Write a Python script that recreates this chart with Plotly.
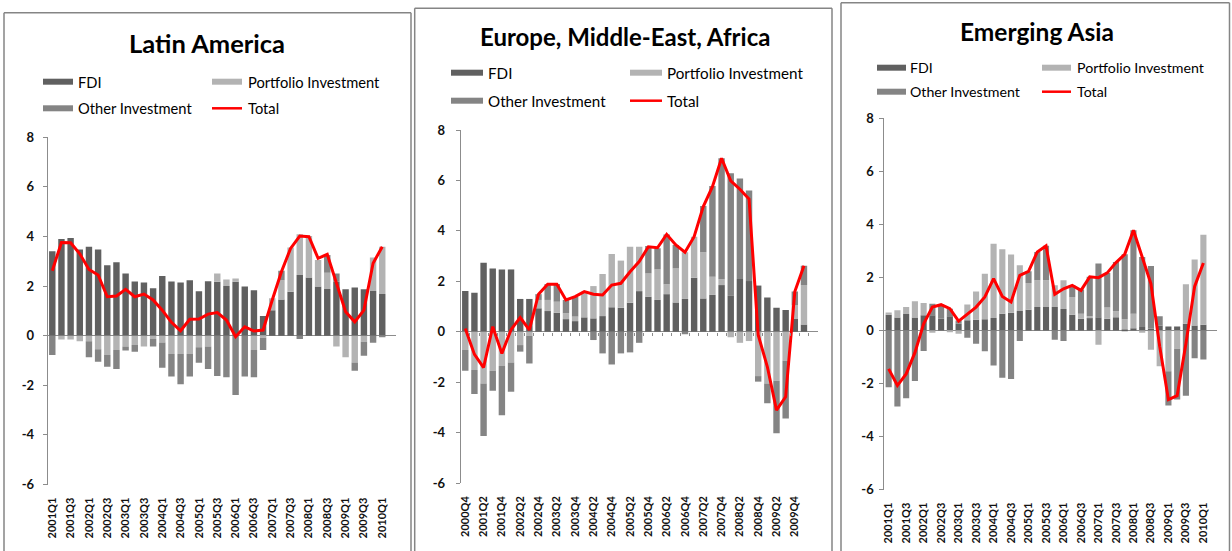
import plotly.graph_objects as go

W, H = 1232, 551


def quarters(start_year, start_q, n):
    out = []
    y, q = start_year, start_q
    for _ in range(n):
        out.append(f"{y}Q{q}")
        q += 1
        if q > 4:
            q = 1
            y += 1
    return out


# ---------------- data ----------------
la_quarters = quarters(2001, 1, 37)
la_fdi = [3.41, 3.90, 3.94, 3.48, 3.59, 3.48, 2.84, 2.96, 2.51, 2.19,
          2.15, 1.91, 2.41, 2.19, 2.15, 2.24, 1.79, 2.20, 2.18, 2.00,
          2.18, 1.98, 1.83, 0.79, 1.03, 1.46, 1.77, 2.45, 2.35, 1.98,
          1.88, 2.18, 1.87, 1.94, 1.87, 1.80, 1.68]
la_portfolio = [0, -0.15, -0.15, -0.22, -0.22, -0.55, -0.78, -0.58, -0.44, -0.38,
                -0.44, -0.13, -0.27, -0.74, -0.74, -0.74, -0.47, -0.44, 0.33, 0.27,
                0.13, 0, -0.58, -0.08, 0.48, 0.78, 1.79, 1.64, 1.67, 1.07,
                0.66, -0.44, -0.87, -1.08, -0.24, 1.35, 1.91]
la_other = [-0.78, 0, 0, 0, -0.65, -0.50, -0.47, -0.76, -0.16, -0.27,
            0, -0.31, -1.02, -0.91, -1.22, -0.91, -0.62, -0.90, -1.63, -1.68,
            -2.39, -1.65, -1.10, -0.50, 0, 0.38, 0, -0.13, 0, 0,
            0.71, 0.33, 0, -0.33, -0.57, -0.28, -0.05]
la_total = [2.62, 3.76, 3.75, 3.30, 2.67, 2.45, 1.57, 1.60, 1.87, 1.57,
            1.68, 1.44, 1.03, 0.54, 0.20, 0.66, 0.67, 0.87, 0.93, 0.63,
            -0.04, 0.36, 0.19, 0.23, 1.44, 2.58, 3.52, 4.02, 3.99, 3.12,
            3.28, 2.11, 0.97, 0.56, 1.03, 2.92, 3.59]

emea_quarters = quarters(2000, 4, 38)
emea_fdi = [1.61, 1.55, 2.74, 2.51, 2.47, 2.47, 1.30, 1.30, 0.93, 0.82,
            0.75, 0.50, 0.42, 0.57, 0.53, 0.62, 0.97, 0.95, 1.15, 1.61,
            1.39, 1.26, 1.49, 1.16, 1.30, 2.14, 1.32, 1.46, 1.85, 1.42,
            2.09, 2.01, 1.83, 1.36, 0.95, 0.86, 0.50, 0.29]
emea_portfolio = [-0.73, -1.52, -2.05, -1.55, -1.36, -1.22, -0.53, -0.17, 0.33, 0.44,
                  0.44, 0.23, 0.18, 1.02, 1.28, 1.67, 2.11, 1.87, 2.22, 1.76,
                  0.92, 1.21, 0.39, 1.35, 1.85, 1.63, 1.83, 0.72, 0.23, -0.22,
                  -0.44, -0.37, -1.76, -2.05, -1.94, -1.15, 0.56, 1.56]
emea_other = [-0.82, -0.95, -2.09, -0.79, -1.95, -1.16, -0.26, -1.09, 0.23, 0.63,
              0.70, 0.53, 0.79, 0, -0.33, -0.86, -1.30, -0.86, -0.82, -0.44,
              1.09, 0.84, 1.98, 0.93, -0.10, 0, 1.84, 3.60, 4.80, 4.86,
              3.99, 3.59, -0.22, -0.79, -2.09, -2.29, 0.53, 0.77]
emea_total = [0.13, -0.90, -1.42, 0.20, -0.86, 0.08, 0.56, 0.07, 1.49, 1.88,
              1.88, 1.26, 1.39, 1.59, 1.49, 1.46, 1.85, 1.92, 2.38, 2.78,
              3.37, 3.33, 3.86, 3.44, 3.15, 3.77, 4.96, 5.75, 6.88, 5.98,
              5.65, 5.26, -0.13, -1.39, -3.11, -2.58, 1.59, 2.62]

asia_quarters = quarters(2001, 1, 37)
asia_fdi = [0.59, 0.49, 0.62, 0.49, 0.57, 0.57, 0.44, 0.53, 0.25, 0.38,
            0.40, 0.42, 0.47, 0.63, 0.67, 0.73, 0.78, 0.88, 0.88, 0.88,
            0.81, 0.59, 0.44, 0.47, 0.50, 0.44, 0.50, 0.04, 0.08, 0.13,
            0.06, 0.19, 0.15, 0.15, 0.25, 0.19, 0.21]
asia_portfolio = [0.09, 0.27, 0.26, 0.61, 0.46, -0.09, 0, -0.04, -0.13, 0.60,
                  1.07, 1.72, 2.80, 2.43, 2.19, 1.73, 1.01, 1.01, 1.01, 0.82,
                  1.08, 0.67, 0.19, 0.06, -0.54, 0.42, 0.22, 0.38, 0.55, -0.09,
                  -0.73, -1.35, -1.54, -0.69, 1.49, 2.48, 3.40]
asia_other = [-2.14, -2.87, -2.56, -1.91, -0.78, 0.44, 0.54, 0.29, 0.12, -0.28,
              -0.50, -0.79, -1.32, -1.79, -1.83, -0.40, 0.44, 1.07, 1.30, -0.35,
              -0.40, 0.44, 0.91, 1.49, 2.02, 1.31, 1.86, 2.45, 3.15, 2.64,
              2.37, 0.34, -1.29, -1.92, -2.46, -1.05, -1.10]
asia_total = [-1.45, -2.08, -1.64, -0.84, 0.25, 0.88, 0.97, 0.82, 0.35, 0.63,
              0.88, 1.26, 1.95, 1.28, 1.07, 2.08, 2.23, 2.96, 3.19, 1.36,
              1.57, 1.70, 1.51, 2.02, 1.99, 2.17, 2.56, 2.87, 3.78, 2.77,
              1.76, -0.60, -2.61, -2.46, -0.50, 1.66, 2.54]

titles = ["Latin America", "Europe, Middle-East, Africa", "Emerging Asia"]
series_names = ["FDI", "Portfolio Investment", "Other Investment", "Total"]
y_tickvals = [-6, -4, -2, 0, 2, 4, 6, 8]
y_ticktext = ["-6", "-4", "-2", "0", "2", "4", "6", "8"]

# ---------------- styles ----------------
FDI_C = "#606060"
PORT_C = "#b3b3b3"
OTHER_C = "#848484"
TOT_C = "#ff0000"
AX_C = "#8c8c8c"
FONT = "Lato"


def fx(x):
    return x / W


def fy(y):
    return 1 - y / H


panels = [
    dict(q=la_quarters, fdi=la_fdi, port=la_portfolio, oth=la_other, tot=la_total,
         ncat=38, xd=(47.7, 396.0), yd=(137.3, 484.5), ystand=6, zero_ticks=False,
         title=(207, 42.7, 25.5), border=(4, 12.7, 411),
         leg=dict(c1=(43, 73, 76), c2=(212, 242, 246), rows=(81.7, 108.3), fs=14.7)),
    dict(q=emea_quarters, fdi=emea_fdi, port=emea_portfolio, oth=emea_other, tot=emea_total,
         ncat=39, xd=(460.7, 817.7), yd=(130.0, 483.0), ystand=8, zero_ticks=True,
         title=(624.5, 36.7, 24), border=(414.7, 8.3, 832),
         leg=dict(c1=(451, 483, 486), c2=(630, 662, 665), rows=(72.7, 100.7), fs=15.2)),
    dict(q=asia_quarters, fdi=asia_fdi, port=asia_portfolio, oth=asia_other, tot=asia_total,
         ncat=38, xd=(884.3, 1216.5), yd=(118.3, 489.5), ystand=3, zero_ticks=False,
         title=(1037, 31.7, 24.5), border=(841, 2.7, 1229.5),
         leg=dict(c1=(877, 906, 908), c2=(1042, 1071, 1075), rows=(67.7, 91.7), fs=14.2)),
]

fig = go.Figure()
shapes = []
annotations = []
layout_axes = {}

for i, p in enumerate(panels):
    n = i + 1
    xa = "x" if n == 1 else f"x{n}"
    ya = "y" if n == 1 else f"y{n}"
    for vals, col, nm in [(p["fdi"], FDI_C, series_names[0]),
                          (p["port"], PORT_C, series_names[1]),
                          (p["oth"], OTHER_C, series_names[2])]:
        fig.add_trace(go.Bar(x=p["q"], y=vals, name=nm, marker=dict(color=col, line=dict(width=0)),
                             xaxis=xa, yaxis=ya, showlegend=False))
    fig.add_trace(go.Scatter(x=p["q"], y=p["tot"], name=series_names[3], mode="lines",
                             line=dict(color=TOT_C, width=3), xaxis=xa, yaxis=ya, showlegend=False))

    xkey = "xaxis" if n == 1 else f"xaxis{n}"
    ykey = "yaxis" if n == 1 else f"yaxis{n}"
    layout_axes[xkey] = dict(
        domain=[fx(p["xd"][0]), fx(p["xd"][1])], anchor=ya, type="category",
        categoryorder="array", categoryarray=p["q"], automargin=False,
        range=[-0.5, p["ncat"] - 0.5], tickmode="array", tickvals=p["q"][::2],
        tickangle=-90, showgrid=False, zeroline=False, showline=False, ticks="",
        tickfont=dict(family=FONT, size=11, color="#111111", weight="bold"), ticklabelstandoff=10)
    layout_axes[ykey] = dict(
        domain=[fy(p["yd"][1]), fy(p["yd"][0])], anchor=xa, range=[-6, 8], automargin=False,
        tickmode="array", tickvals=y_tickvals, ticktext=y_ticktext,
        showgrid=False, zeroline=True, zerolinecolor=AX_C, zerolinewidth=1,
        showline=True, linecolor=AX_C, linewidth=1, ticks="outside", ticklen=4,
        tickcolor=AX_C, tickfont=dict(family=FONT, size=13, color="#111111", weight="bold"),
        ticklabelstandoff=p["ystand"])

    if p["zero_ticks"]:
        # category-boundary tick marks along the zero line (x-axis crossing at 0)
        d0, d1 = layout_axes[ykey]["domain"]
        zero_pos = d0 + (0 - (-6)) / 14 * (d1 - d0)
        layout_axes["xaxis4"] = dict(
            overlaying=xa, anchor="free", position=zero_pos, side="bottom", type="category",
            categoryorder="array", categoryarray=p["q"], automargin=False,
            range=[-0.5, p["ncat"] - 0.5], tickmode="array", tickvals=p["q"],
            tickson="boundaries", ticks="outside", ticklen=3, tickcolor=AX_C, tickwidth=1,
            showticklabels=False, showgrid=False, zeroline=False, showline=False)
        fig.add_trace(go.Scatter(x=p["q"], y=p["tot"], mode="lines", line=dict(width=0),
                                 opacity=0, xaxis="x4", yaxis=ya, showlegend=False,
                                 hoverinfo="skip"))

    # panel border (left, top, right)
    bx0, by0, bx1 = p["border"]
    for (x0, y0, x1, y1) in [(bx0, by0, bx0, 600), (bx0, by0, bx1, by0), (bx1, by0, bx1, 600)]:
        shapes.append(dict(type="line", xref="paper", yref="paper",
                           x0=fx(x0), y0=fy(y0), x1=fx(x1), y1=fy(y1),
                           line=dict(color="#858585", width=1.5)))

    # title
    tx, ty, tfs = p["title"]
    annotations.append(dict(text=f"<b>{titles[i]}</b>", x=fx(tx), y=fy(ty), xref="paper", yref="paper",
                            xanchor="center", yanchor="middle", showarrow=False,
                            font=dict(family=FONT, size=tfs, color="#000000")))

    # legend
    lg = p["leg"]
    r1, r2 = lg["rows"]
    entries = [(lg["c1"], r1, FDI_C, series_names[0], "bar"),
               (lg["c2"], r1, PORT_C, series_names[1], "bar"),
               (lg["c1"], r2, OTHER_C, series_names[2], "bar"),
               (lg["c2"], r2, TOT_C, series_names[3], "line")]
    for (sx0, sx1, tx0), ry, col, nm, kind in entries:
        if kind == "bar":
            shapes.append(dict(type="rect", xref="paper", yref="paper",
                               x0=fx(sx0), x1=fx(sx1), y0=fy(ry + 3), y1=fy(ry - 3),
                               fillcolor=col, line=dict(width=0)))
        else:
            shapes.append(dict(type="line", xref="paper", yref="paper",
                               x0=fx(sx0), x1=fx(sx1), y0=fy(ry), y1=fy(ry),
                               line=dict(color=col, width=2.5)))
        annotations.append(dict(text=nm, x=fx(tx0), y=fy(ry), xref="paper", yref="paper",
                                xanchor="left", yanchor="middle", showarrow=False,
                                font=dict(family=FONT, size=lg["fs"], color="#000000")))

fig.update_layout(
    width=W, height=H, autosize=False,
    margin=dict(l=0, r=0, t=0, b=0, pad=0),
    paper_bgcolor="white", plot_bgcolor="white",
    barmode="relative", bargap=0.3,
    shapes=shapes, annotations=annotations,
    showlegend=False,
    **layout_axes,
)

fig.write_html(
    "out.html",
    config={"displayModeBar": False},
    post_script="document.body.style.margin='0';document.body.style.padding='0';"
                "document.documentElement.style.overflow='hidden';",
)
